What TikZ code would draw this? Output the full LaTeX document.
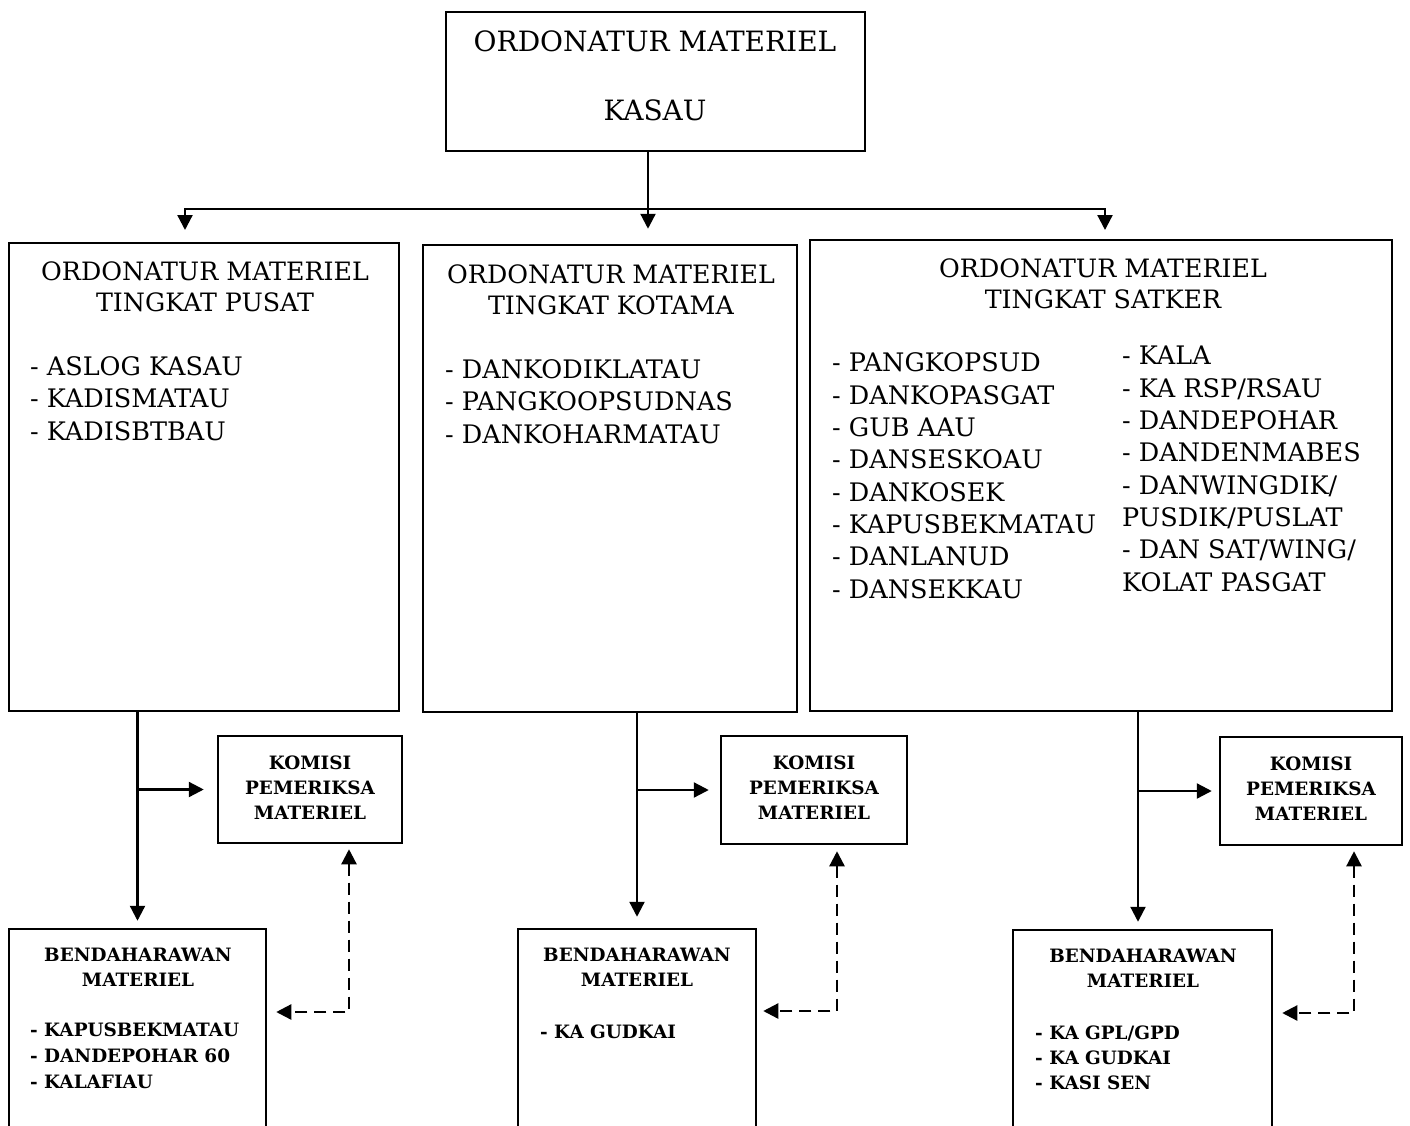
\documentclass[tikz,border=0pt]{standalone}
\usepackage{fontspec}
\setmainfont{DejaVu Serif}
\usepackage{tikz}
\usetikzlibrary{arrows.meta,positioning,calc}

\begin{document}
\begin{tikzpicture}[
  x=1pt, y=-1pt,
  orgbox/.style={rectangle, draw, line width=2.5pt, inner sep=0pt},
  bigtext/.style={inner sep=0pt, font=\fontsize{25.3}{31}\selectfont},
  listtext/.style={inner sep=0pt, align=left, anchor=base west, font=\fontsize{25.5}{32.3}\selectfont},
  smalltext/.style={inner sep=0pt, align=center, anchor=base, font=\bfseries\fontsize{18.4}{25}\selectfont},
  arrow/.style={-{Triangle[length=15pt,width=15pt]}, line width=2.3pt},
  dasharrow/.style={{Triangle[length=15pt,width=15pt]}-{Triangle[length=15pt,width=15pt]}, line width=2.3pt, dash pattern=on 12pt off 7pt}
]
\useasboundingbox (0,0) rectangle (1410,1126);
\clip (0,0) rectangle (1410,1126);

% Top box
\node[orgbox, minimum width=419, minimum height=139] (kasau) at (655.5,81.5) {};
\node[bigtext, align=center, anchor=base, font=\fontsize{28}{69}\selectfont] (kasautext) at (655,121) {ORDONATUR MATERIEL\\KASAU};

% Level boxes
\node[orgbox, minimum width=390, minimum height=468] (pusat) at (204,477) {};
\node[orgbox, minimum width=374, minimum height=467] (kotama) at (610,478.5) {};
\node[orgbox, minimum width=582, minimum height=471] (satker) at (1101,475.5) {};

\node[bigtext, align=center, anchor=base] (pusattitle) at (205,311) {ORDONATUR MATERIEL\\TINGKAT PUSAT};
\node[listtext] (pusatlist) at (30,440) {- ASLOG KASAU\\- KADISMATAU\\- KADISBTBAU};

\node[bigtext, align=center, anchor=base] (kotamatitle) at (611,314) {ORDONATUR MATERIEL\\TINGKAT KOTAMA};
\node[listtext] (kotamalist) at (445,443) {- DANKODIKLATAU\\- PANGKOOPSUDNAS\\- DANKOHARMATAU};

\node[bigtext, align=center, anchor=base] (satkertitle) at (1103,308) {ORDONATUR MATERIEL\\TINGKAT SATKER};
\node[listtext] (satkerleft) at (832,598) {- PANGKOPSUD\\- DANKOPASGAT\\- GUB AAU\\- DANSESKOAU\\- DANKOSEK\\- KAPUSBEKMATAU\\- DANLANUD\\- DANSEKKAU};
\node[listtext] (satkerright) at (1122,591) { - KALA\\ - KA RSP/RSAU\\ - DANDEPOHAR\\ - DANDENMABES\\ - DANWINGDIK/\\PUSDIK/PUSLAT\\ - DAN SAT/WING/\\KOLAT PASGAT};

% Komisi boxes
\node[orgbox, minimum width=184, minimum height=107] (komisi1) at (310,789.5) {};
\node[orgbox, minimum width=186, minimum height=108] (komisi2) at (814,790) {};
\node[orgbox, minimum width=182, minimum height=108] (komisi3) at (1311,791) {};
\node[smalltext] (komisi1text) at (310,819) {KOMISI\\PEMERIKSA\\MATERIEL};
\node[smalltext] (komisi2text) at (814,819) {KOMISI\\PEMERIKSA\\MATERIEL};
\node[smalltext] (komisi3text) at (1311,820) {KOMISI\\PEMERIKSA\\MATERIEL};

% Bendaharawan boxes (open at the bottom)
\node[orgbox, minimum width=257, minimum height=240] (bend1) at (137.5,1049) {};
\node[orgbox, minimum width=238, minimum height=240] (bend2) at (637,1049) {};
\node[orgbox, minimum width=259, minimum height=240] (bend3) at (1142.5,1050) {};
\node[smalltext] (bend1title) at (138,986) {BENDAHARAWAN\\MATERIEL};
\node[smalltext, anchor=base west, align=left, font=\bfseries\fontsize{18.4}{26}\selectfont] (bend1list) at (30,1088) {- KAPUSBEKMATAU\\- DANDEPOHAR 60\\- KALAFIAU};
\node[smalltext] (bend2title) at (637,986) {BENDAHARAWAN\\MATERIEL};
\node[smalltext, anchor=base west, align=left] (bend2list) at (540,1038) {- KA GUDKAI};
\node[smalltext] (bend3title) at (1143,987) {BENDAHARAWAN\\MATERIEL};
\node[smalltext, anchor=base west, align=left, font=\bfseries\fontsize{18.4}{25}\selectfont] (bend3list) at (1035,1089) {- KA GPL/GPD\\- KA GUDKAI\\- KASI SEN};

% Top connectors
\coordinate (split) at (648,209);
\coordinate (lt) at (185,230);
\coordinate (rt) at (1105,230);
\draw[arrow] (kasau.south -| split) -- ([yshift=15pt]kotama.north -| split);
\draw[arrow] (split) -| (lt);
\draw[arrow] (split) -| (rt);

% Lower connectors
\draw[arrow] (bend1.north |- pusat.south) -- ([yshift=7pt]bend1.north);
\draw[arrow] (bend1.north |- komisi1.west) -- ([xshift=-13pt]komisi1.west);
\draw[arrow] (bend2.north |- kotama.south) -- ([yshift=11pt]bend2.north);
\draw[arrow] (bend2.north |- komisi2.west) -- ([xshift=-11pt]komisi2.west);
\coordinate (b3) at (1138,0);
\draw[arrow] (b3 |- satker.south) -- ([yshift=7pt]bend3.north -| b3);
\draw[arrow] (b3 |- komisi3.west) -- ([xshift=-7pt]komisi3.west);

% Dashed links
\coordinate (d1) at (349,1012);
\coordinate (d2) at (837,1011);
\coordinate (d3) at (1354,1013);
\draw[dasharrow] ([yshift=-5pt]komisi1.south -| d1) |- ([xshift=9pt]bend1.east |- d1);
\draw[dasharrow] ([yshift=-6pt]komisi2.south -| d2) |- ([xshift=6pt]bend2.east |- d2);
\draw[dasharrow] ([yshift=-5pt]komisi3.south -| d3) |- ([xshift=9pt]bend3.east |- d3);

\end{tikzpicture}
\end{document}
